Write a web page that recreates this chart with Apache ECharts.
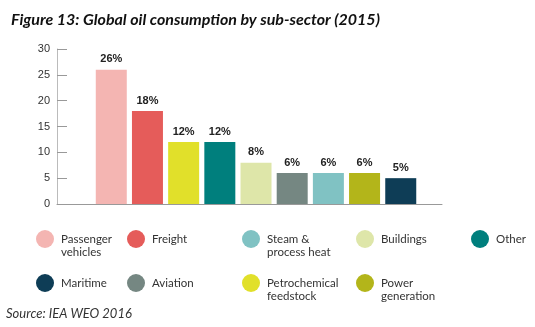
<!DOCTYPE html>
<html>
<head>
<meta charset="utf-8">
<script src="https://cdn.jsdelivr.net/npm/echarts@6/dist/echarts.min.js"></script>
<style>html,body{margin:0;padding:0;background:#fff}#c{width:535px;height:327px}</style>
</head>
<body>
<div id="c"></div>
<script>
const categories = ['Passenger vehicles','Freight','Petrochemical feedstock','Other','Buildings','Aviation','Steam & process heat','Power generation','Maritime'];
const values = [26,18,12,12,8,6,6,6,5];
const colors = ['#F4B5B2','#E55C5A','#E1E02A','#007F7D','#DEE6A9','#758782','#80C2C3','#B3B51A','#0E3D56'];
const yTicks = [0,5,10,15,20,25,30];
const legendOrder = ['Passenger vehicles','Freight','Steam & process heat','Buildings','Other','Maritime','Aviation','Petrochemical feedstock','Power generation'];
const legendLabels = {
  'Passenger vehicles':'Passenger\nvehicles',
  'Steam & process heat':'Steam &\nprocess heat',
  'Petrochemical feedstock':'Petrochemical\nfeedstock',
  'Power generation':'Power\ngeneration'
};

const chart = echarts.init(document.getElementById('c'), null, {renderer:'canvas'});
const colX = [47,138,253,367,482];
const rowY = [239,283];
const legends = legendOrder.map((name, k) => {
  const cx = colX[k % 5], cy = rowY[Math.floor(k/5)];
  const two = !!legendLabels[name];
  return {
    data:[name], left: cx - 11, top: two ? cy - 19.5 : cy - 9, padding:0,
    icon:'circle', itemWidth:22, itemHeight:18, selectedMode:false,
    formatter: n => legendLabels[n] ? ' \n' + legendLabels[n] : n,
    textStyle:{fontFamily:'Lato', fontSize:11.5, color:'#333', lineHeight:13}
  };
});

const series = categories.map((name, i) => ({
  type:'bar', name, stack:'all', barWidth:31,
  data:[[i, values[i]]],
  itemStyle:{color:colors[i]},
  label:{show:true, position:'top', distance:5, formatter: p => p.value[1] + '%',
    fontFamily:'Liberation Sans', fontWeight:'bold', fontSize:11, color:'#222'}
}));

chart.setOption({
  animation:false,
  title:{text:'Figure 13: Global oil consumption by sub-sector (2015)', left:6, top:7,
    textStyle:{fontFamily:'Lato', fontStyle:'italic', fontWeight:'bold', fontSize:16, color:'#111'}},
  grid:{left:57, right:93, top:49, bottom:123, containLabel:false},
  xAxis:{type:'value', min:-1.5, max:9.14, axisLine:{show:true, onZero:false, lineStyle:{color:'#999'}},
    axisTick:{show:false}, axisLabel:{show:false}, splitLine:{show:false}},
  yAxis:{type:'value', min:yTicks[0], max:yTicks[yTicks.length-1], interval:5,
    axisLine:{show:true, onZero:false, lineStyle:{color:'#bbb'}},
    axisTick:{show:true, inside:true, length:10, lineStyle:{color:'#999'}},
    axisLabel:{margin:7, fontFamily:'Liberation Sans', fontSize:11, color:'#333'},
    splitLine:{show:false}},
  legend: legends,
  graphic:[{type:'text', left:6, top:307, style:{text:'Source: IEA WEO 2016', font:'italic 13px Lato', fill:'#333'}}],
  series
});
</script>
</body>
</html>
